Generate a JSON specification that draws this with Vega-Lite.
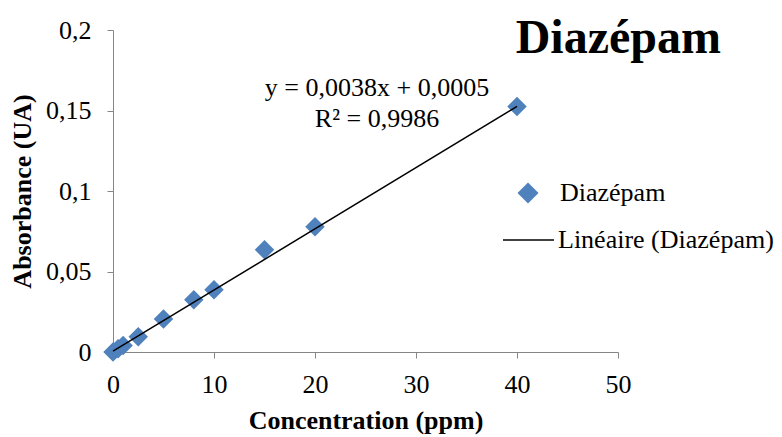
{
  "$schema": "https://vega.github.io/schema/vega-lite/v6.json",
  "autosize": {"type": "none"},
  "padding": {"left": 113, "top": 30, "right": 164, "bottom": 85},
  "width": 505,
  "height": 322,
  "background": "white",
  "title": {
    "text": "Diazépam",
    "anchor": "end",
    "frame": "group",
    "font": "Liberation Serif",
    "fontSize": 48,
    "fontWeight": "bold",
    "color": "black",
    "dx": 103,
    "offset": -46
  },
  "datasets": {
    "points": [
      {"conc": 0, "abs": 0, "series": "Diazépam"},
      {"conc": 0.5, "abs": 0.002, "series": "Diazépam"},
      {"conc": 1, "abs": 0.004, "series": "Diazépam"},
      {"conc": 2.5, "abs": 0.0095, "series": "Diazépam"},
      {"conc": 5, "abs": 0.0205, "series": "Diazépam"},
      {"conc": 8, "abs": 0.0325, "series": "Diazépam"},
      {"conc": 10, "abs": 0.0387, "series": "Diazépam"},
      {"conc": 15, "abs": 0.0635, "series": "Diazépam"},
      {"conc": 20, "abs": 0.0778, "series": "Diazépam"},
      {"conc": 40, "abs": 0.1525, "series": "Diazépam"}
    ],
    "trend": [
      {"conc": 0, "abs": 0.0005, "trend": "Linéaire (Diazépam)"},
      {"conc": 40, "abs": 0.1525, "trend": "Linéaire (Diazépam)"}
    ],
    "annot": [
      {"label": ["y = 0,0038x + 0,0005", "R² = 0,9986"]}
    ]
  },
  "layer": [
    {
      "data": {"name": "points"},
      "mark": {"type": "point", "filled": true, "opacity": 1, "color": "#4F81BD", "size": 380, "shape": "diamond"},
      "encoding": {
        "x": {"field": "conc", "type": "quantitative", "scale": {"domain": [0, 50], "nice": false, "zero": true},
          "axis": {"title": "Concentration (ppm)", "values": [0, 10, 20, 30, 40, 50], "labelFlush": false, "labelPadding": 13, "titlePadding": 10}},
        "y": {"field": "abs", "type": "quantitative", "scale": {"domain": [0, 0.2], "nice": false},
          "axis": {"title": "Absorbance (UA)", "values": [0, 0.05, 0.1, 0.15, 0.2], "labelPadding": 16, "titlePadding": 10,
            "labelExpr": "replace(format(datum.value, ''), '.', ',')"}},
        "shape": {"field": "series", "type": "nominal", "scale": {"range": ["diamond"]},
          "legend": {"title": null, "orient": "none", "legendX": 402, "legendY": 150, "symbolSize": 440,
            "symbolFillColor": "#4F81BD", "symbolStrokeWidth": 0, "labelOffset": 19, "padding": 0}}
      }
    },
    {
      "data": {"name": "trend"},
      "mark": {"type": "line", "strokeWidth": 1.5},
      "encoding": {
        "x": {"field": "conc", "type": "quantitative"},
        "y": {"field": "abs", "type": "quantitative"},
        "color": {"field": "trend", "type": "nominal", "scale": {"range": ["black"]},
          "legend": {"title": null, "orient": "none", "legendX": 389, "legendY": 183.5, "symbolType": "stroke",
            "symbolSize": 2601, "symbolStrokeWidth": 1.5, "labelOffset": 3, "padding": 0}}
      }
    },
    {
      "data": {"name": "annot"},
      "mark": {"type": "text", "font": "Liberation Serif", "fontSize": 26, "color": "black", "align": "center", "baseline": "alphabetic", "lineHeight": 31},
      "encoding": {
        "x": {"datum": 26.14, "type": "quantitative"},
        "y": {"datum": 0.159, "type": "quantitative"},
        "text": {"field": "label"}
      }
    }
  ],
  "config": {
    "view": {"stroke": null},
    "font": "Liberation Serif",
    "axis": {
      "grid": false,
      "domainColor": "#868686",
      "domainWidth": 1,
      "tickColor": "#868686",
      "tickWidth": 1,
      "tickSize": 6,
      "labelFont": "Liberation Serif",
      "labelFontSize": 26,
      "labelColor": "black",
      "titleFont": "Liberation Serif",
      "titleFontSize": 26,
      "titleFontWeight": "bold",
      "titleColor": "black"
    },
    "legend": {
      "labelFont": "Liberation Serif",
      "labelFontSize": 26,
      "labelColor": "black",
      "labelLimit": 400
    }
  }
}
